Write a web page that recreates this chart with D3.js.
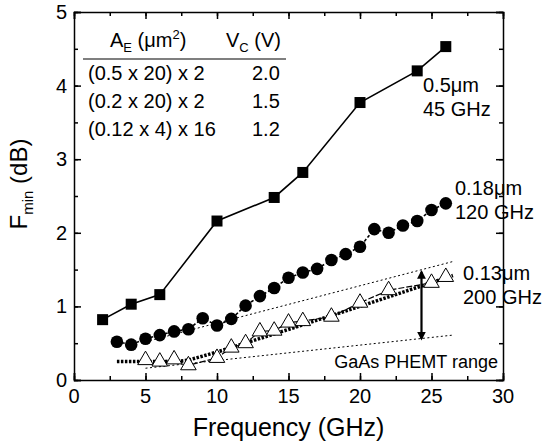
<!DOCTYPE html>
<html lang="en">
<head>
<meta charset="utf-8">
<title>Fmin vs frequency</title>
<script type="text/javascript" src="https://d3js.org/d3.v7.min.js"></script>
<style>
body { margin: 0; background: #fff; }
text { font-family: "Liberation Sans", Arial, sans-serif; fill: #000; }
.axis path, .axis line { stroke: #000; stroke-width: 1.5; fill: none; }
</style>
</head>
<body>
<div id="chart"></div>
<script type="text/javascript">

// 0.5um, 45 GHz (squares)
var sqFreq = [2, 4, 6, 10, 14, 16, 20, 24, 26];
var sqFmin = [0.82, 1.03, 1.16, 2.16, 2.48, 2.82, 3.77, 4.20, 4.53];

// 0.18um, 120 GHz (circles)
var ciFreq = [3, 4, 5, 6, 7, 8, 9, 10, 11, 12, 13, 14, 15, 16, 17, 18, 19, 20, 21, 22, 23, 24, 25, 26];
var ciFmin = [0.52, 0.48, 0.56, 0.61, 0.66, 0.69, 0.84, 0.74, 0.83, 1.01, 1.14, 1.25, 1.39, 1.46, 1.51, 1.63, 1.71, 1.81, 2.05, 2.00, 2.10, 2.16, 2.31, 2.40];

// 0.13um, 200 GHz (triangles)
var trFreq = [5, 6, 7, 8, 10, 11, 12, 13, 14, 15, 16, 18, 20, 22, 25, 26];
var trFmin = [0.27, 0.25, 0.28, 0.20, 0.30, 0.44, 0.50, 0.66, 0.67, 0.78, 0.80, 0.86, 1.05, 1.22, 1.32, 1.40];

// model curve for the 0.13um device (thick dotted)
var modelFreq = [3, 7, 8, 10, 14.4, 20, 26.5];
var modelFmin = [0.25, 0.25, 0.27, 0.38, 0.65, 1.00, 1.42];

// GaAs PHEMT range bounds
var rangeFreq = [5, 26.5];
var rangeUpper = [0.52, 1.61];
var rangeLower = [0.16, 0.61];
var arrowFreq = 24.3, arrowTop = 1.47, arrowBottom = 0.56;

var tableHeader = ["A", "E", " (\u03bcm", "2", ")"];
var tableRows = [["(0.5 x 20) x 2", "2.0"], ["(0.2 x 20) x 2", "1.5"], ["(0.12 x 4) x 16", "1.2"]];

var xTicks = [0, 5, 10, 15, 20, 25, 30];
var yTicks = [0, 1, 2, 3, 4, 5];

var margin = {top: 12, right: 45, bottom: 66, left: 74},
    width = 503 - 74,
    height = 380 - 12;

var svg = d3.select("#chart").append("svg")
    .attr("width", 548)
    .attr("height", 446);

var root = svg.append("g")
    .attr("transform", "translate(" + margin.left + "," + margin.top + ")");

var x = d3.scaleLinear().domain([0, 30]).range([0, width]);
var y = d3.scaleLinear().domain([0, 5]).range([height, 0]);

var minorX = d3.range(0, 30.01, 2.5);
var minorY = d3.range(0, 5.01, 0.5);

// ticks on all four sides, pointing inward
function tickAxis(axis, major, minor) {
    return function(g) {
        g.append("g").attr("class", "axis").call(axis.tickValues(minor).tickSize(-4).tickFormat(""))
            .select(".domain").remove();
        g.append("g").attr("class", "axis").call(axis.tickValues(major).tickSize(-7).tickFormat(""));
    };
}

root.append("g").attr("transform", "translate(0," + height + ")").call(tickAxis(d3.axisBottom(x), xTicks, minorX));
root.append("g").call(tickAxis(d3.axisTop(x), xTicks, minorX));
root.append("g").call(tickAxis(d3.axisLeft(y), yTicks, minorY));
root.append("g").attr("transform", "translate(" + width + ",0)").call(tickAxis(d3.axisRight(y), yTicks, minorY));

root.selectAll(".xlabel")
    .data(xTicks)
    .enter().append("text")
        .attr("class", "xlabel")
        .attr("x", function(d) { return x(d); })
        .attr("y", height + 23)
        .style("text-anchor", "middle")
        .style("font-size", "20px")
        .text(function(d) { return d; });

root.selectAll(".ylabel")
    .data(yTicks)
    .enter().append("text")
        .attr("class", "ylabel")
        .attr("x", -7)
        .attr("y", function(d) { return y(d) + 7; })
        .style("text-anchor", "end")
        .style("font-size", "20px")
        .text(function(d) { return d; });

root.append("text")
    .attr("x", width / 2)
    .attr("y", height + 56)
    .style("text-anchor", "middle")
    .style("font-size", "25px")
    .text("Frequency (GHz)");

var yTitle = root.append("text")
    .attr("transform", "translate(-47," + (height / 2 - 12) + ") rotate(-90)")
    .style("text-anchor", "middle")
    .style("font-size", "24px");
yTitle.append("tspan").text("F");
yTitle.append("tspan").attr("dy", 6).style("font-size", "15px").text("min");
yTitle.append("tspan").attr("dy", -6).text(" (dB)");

root.append("defs").append("clipPath").attr("id", "plotclip")
    .append("rect").attr("width", width).attr("height", height);

var line = d3.line()
    .x(function(d) { return x(d[0]); })
    .y(function(d) { return y(d[1]); });

function pairs(xs, ys) {
    return xs.map(function(v, i) { return [v, ys[i]]; });
}

var plot = root.append("g").attr("clip-path", "url(#plotclip)");

// range lines
plot.append("path")
    .datum(pairs(rangeFreq, rangeUpper))
    .attr("d", line)
    .attr("fill", "none").attr("stroke", "#000").attr("stroke-width", 1).attr("stroke-dasharray", "2,2.5");
plot.append("path")
    .datum(pairs(rangeFreq, rangeLower))
    .attr("d", line)
    .attr("fill", "none").attr("stroke", "#000").attr("stroke-width", 1).attr("stroke-dasharray", "2,2.5");

// model curve
plot.append("path")
    .datum(pairs(modelFreq, modelFmin))
    .attr("d", line)
    .attr("fill", "none").attr("stroke", "#000").attr("stroke-width", 3.5).attr("stroke-dasharray", "2.5,1.5");

// squares
plot.append("path")
    .datum(pairs(sqFreq, sqFmin))
    .attr("d", line)
    .attr("fill", "none").attr("stroke", "#000").attr("stroke-width", 1.6);
plot.selectAll(".sq")
    .data(pairs(sqFreq, sqFmin))
    .enter().append("rect")
        .attr("class", "sq")
        .attr("x", function(d) { return x(d[0]) - 5.5; })
        .attr("y", function(d) { return y(d[1]) - 5.5; })
        .attr("width", 11).attr("height", 11)
        .attr("fill", "#000");

// circles
plot.append("path")
    .datum(pairs(ciFreq, ciFmin))
    .attr("d", line)
    .attr("fill", "none").attr("stroke", "#000").attr("stroke-width", 1.6).attr("stroke-dasharray", "3,2");
plot.selectAll(".ci")
    .data(pairs(ciFreq, ciFmin))
    .enter().append("circle")
        .attr("class", "ci")
        .attr("cx", function(d) { return x(d[0]); })
        .attr("cy", function(d) { return y(d[1]); })
        .attr("r", 6.3)
        .attr("fill", "#000");

// triangles
plot.append("path")
    .datum(pairs(trFreq, trFmin))
    .attr("d", line)
    .attr("fill", "none").attr("stroke", "#000").attr("stroke-width", 1.2).attr("stroke-dasharray", "6,2");
var tri = d3.symbol().type(d3.symbolTriangle).size(105);
plot.selectAll(".tr")
    .data(pairs(trFreq, trFmin))
    .enter().append("path")
        .attr("class", "tr")
        .attr("transform", function(d) { return "translate(" + x(d[0]) + "," + y(d[1]) + ")"; })
        .attr("d", tri)
        .attr("fill", "#fff").attr("stroke", "#000").attr("stroke-width", 1);

// double-headed arrow
root.select("defs").append("marker")
    .attr("id", "head")
    .attr("viewBox", "0 0 10 10")
    .attr("refX", 8).attr("refY", 5)
    .attr("markerWidth", 4).attr("markerHeight", 4)
    .attr("orient", "auto-start-reverse")
    .append("path").attr("d", "M0,0 L10,5 L0,10 Z").attr("fill", "#000");
root.append("line")
    .attr("x1", x(arrowFreq)).attr("x2", x(arrowFreq))
    .attr("y1", y(arrowBottom)).attr("y2", y(arrowTop))
    .attr("stroke", "#000").attr("stroke-width", 2.2)
    .attr("marker-start", "url(#head)").attr("marker-end", "url(#head)");

// device labels
function label(px, py, lines) {
    var t = root.append("text").style("font-size", "20px");
    lines.forEach(function(s, i) {
        t.append("tspan").attr("x", px).attr("y", py + i * 24).text(s);
    });
}
label(349, 80, ["0.5\u03bcm", "45 GHz"]);
label(381, 183, ["0.18\u03bcm", "120 GHz"]);
label(389, 268, ["0.13\u03bcm", "200 GHz"]);

root.append("text")
    .attr("x", 424).attr("y", 356)
    .style("text-anchor", "end")
    .style("font-size", "18px")
    .text("GaAs PHEMT range");

// table
var table = root.append("g").attr("transform", "translate(14,35)");
var head = table.append("text").attr("x", 22).attr("y", 0).style("font-size", "20px");
head.append("tspan").text(tableHeader[0]);
head.append("tspan").attr("dy", 5).style("font-size", "13px").text(tableHeader[1]);
head.append("tspan").attr("dy", -5).text(tableHeader[2]);
head.append("tspan").attr("dy", -8).style("font-size", "13px").text(tableHeader[3]);
head.append("tspan").attr("dy", 8).text(tableHeader[4]);
var vc = table.append("text").attr("x", 138).attr("y", 0).style("font-size", "20px");
vc.append("tspan").text("V");
vc.append("tspan").attr("dy", 5).style("font-size", "13px").text("C");
vc.append("tspan").attr("dy", -5).text(" (V)");
table.append("line")
    .attr("x1", -5).attr("x2", 198)
    .attr("y1", 12).attr("y2", 12)
    .attr("stroke", "#000").attr("stroke-width", 1.2);
table.selectAll(".row")
    .data(tableRows)
    .enter().append("g")
        .attr("class", "row")
        .each(function(d, i) {
            var g = d3.select(this);
            g.append("text").attr("x", 0).attr("y", 33 + i * 28).style("font-size", "20px").text(d[0]);
            g.append("text").attr("x", 164).attr("y", 33 + i * 28).style("font-size", "20px").text(d[1]);
        });

</script>
</body>
</html>
